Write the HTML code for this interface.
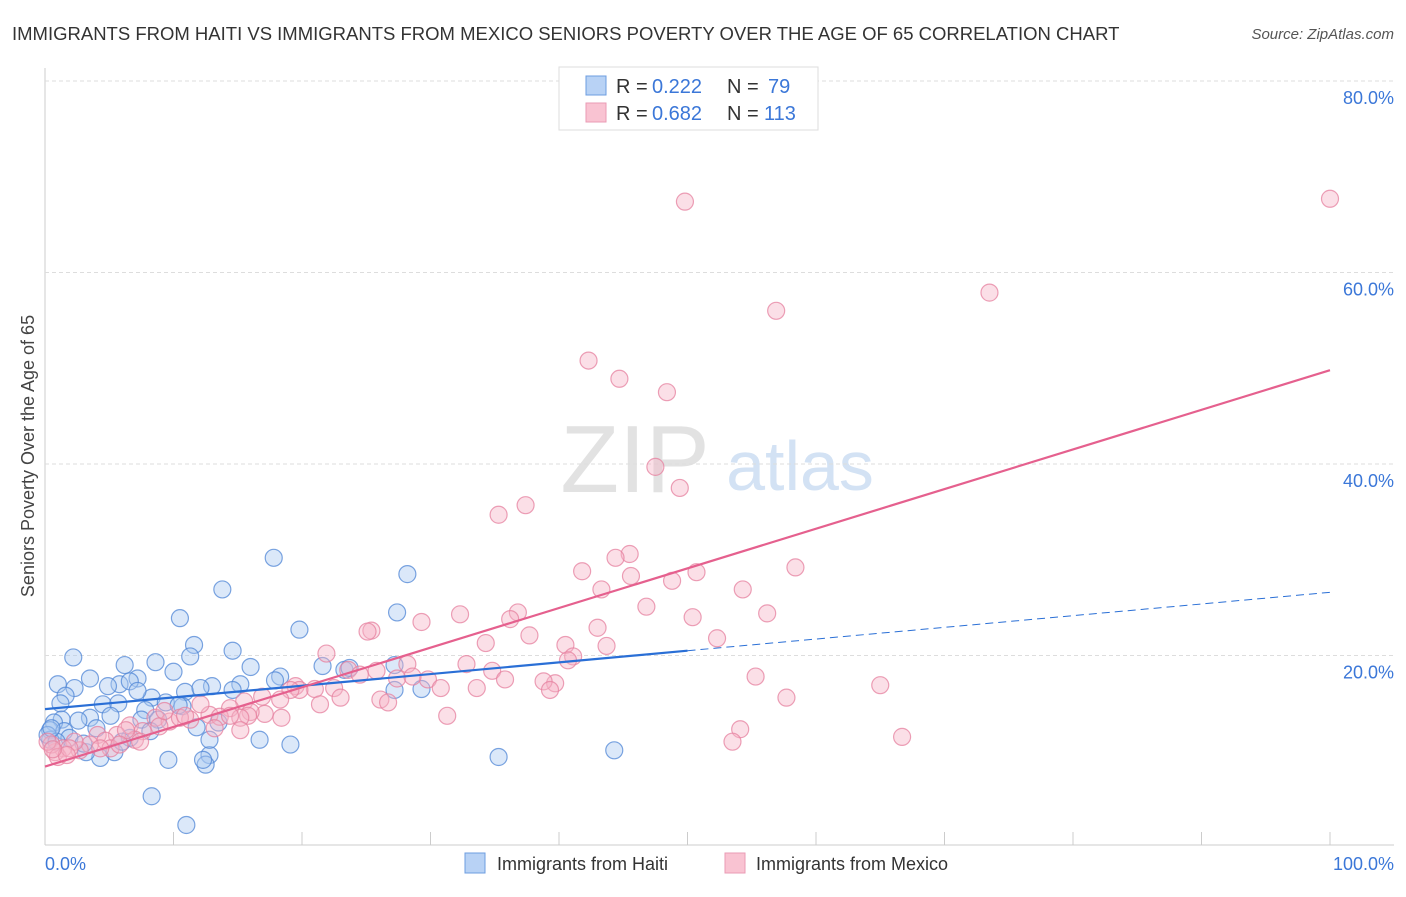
<!DOCTYPE html><html><head><meta charset="utf-8"><style>
body{margin:0;background:#fff;font-family:"Liberation Sans",sans-serif}
svg text{font-family:"Liberation Sans",sans-serif}
</style></head><body>
<svg id="c" width="1406" height="892">
<text x="12" y="40" font-size="18.5" fill="#333">IMMIGRANTS FROM HAITI VS IMMIGRANTS FROM MEXICO SENIORS POVERTY OVER THE AGE OF 65 CORRELATION CHART</text>
<text x="1394" y="39" font-size="15" fill="#555" font-style="italic" text-anchor="end">Source: ZipAtlas.com</text>
<text x="635" y="492" font-size="96" fill="#e2e2e2" font-family="Liberation Serif" text-anchor="middle">ZIP</text>
<text x="800" y="490" font-size="70" fill="#d3e2f4" text-anchor="middle">atlas</text>
<g id="grid"></g><g id="pts"></g><g id="lines"></g>
<text transform="translate(34,456) rotate(-90)" font-size="18" fill="#444" text-anchor="middle">Seniors Poverty Over the Age of 65</text>
<text x="45" y="870" font-size="18" fill="#3b77d8">0.0%</text>
<text x="1394" y="870" font-size="18" fill="#3b77d8" text-anchor="end">100.0%</text>
<g>
<rect x="559" y="67" width="259" height="63" fill="#fff" stroke="#ddd"/>
<rect x="586" y="76" width="20" height="19" fill="#b8d2f5" stroke="#6d9de0"/>
<rect x="586" y="103" width="20" height="19" fill="#f9c3d2" stroke="#ea9bb4"/>
<text x="616" y="93" font-size="20" fill="#333">R =</text>
<text x="652" y="93" font-size="20" fill="#3b77d8">0.222</text>
<text x="727" y="93" font-size="20" fill="#333">N =</text>
<text x="768" y="93" font-size="20" fill="#3b77d8">79</text>
<text x="616" y="120" font-size="20" fill="#333">R =</text>
<text x="652" y="120" font-size="20" fill="#3b77d8">0.682</text>
<text x="727" y="120" font-size="20" fill="#333">N =</text>
<text x="764" y="120" font-size="20" fill="#3b77d8">113</text>
</g>
<g>
<rect x="465" y="853" width="20" height="20" fill="#b8d2f5" stroke="#6d9de0"/>
<text x="497" y="870" font-size="18" fill="#333">Immigrants from Haiti</text>
<rect x="725" y="853" width="20" height="20" fill="#f9c3d2" stroke="#ea9bb4"/>
<text x="756" y="870" font-size="18" fill="#333">Immigrants from Mexico</text>
</g>
</svg>
<script>
const yTicks=[20,40,60,80];
const haitiX=[17.8,13.8,10.5,19.8,11.6,11.3,14.6,2.2,8.6,6.2,16.0,21.6,10.0,18.3,3.5,7.2,1.0,5.8,4.9,6.6,2.3,15.2,10.9,13.0,1.6,8.3,9.4,12.1,1.2,4.5,5.7,10.7,7.8,5.1,3.5,1.3,2.6,0.7,7.5,8.8,13.5,11.8,0.4,1.5,4.0,1.9,0.4,6.6,8.2,16.7,19.1,12.8,4.3,5.4,9.6,12.5,3.2,8.3,11.0,27.2,28.2,27.4,23.3,29.3,35.3,44.3,27.2,0.2,0.9,3.0,6.0,14.6,7.2,10.4,17.9,12.3,0.5,12.8,23.7];
const haitiY=[30.2,26.9,23.9,22.7,21.1,19.9,20.5,19.8,19.3,19.0,18.8,18.9,18.3,17.8,17.6,17.6,17.0,17.0,16.8,17.3,16.6,17.0,16.2,16.8,15.8,15.6,15.1,16.6,15.0,14.9,15.0,14.7,14.3,13.7,13.5,13.3,13.2,13.0,13.3,13.3,13.0,12.5,12.2,12.1,12.4,11.4,11.2,11.4,12.1,11.2,10.7,9.6,9.3,9.9,9.1,8.6,9.9,5.3,2.3,19.0,28.5,24.5,18.5,16.5,9.4,10.1,16.4,11.7,11.0,10.8,11.0,16.4,16.3,14.8,17.4,9.1,12.4,11.2,18.7];
const mexicoX=[49.8,100,73.5,56.9,42.3,44.7,48.4,47.5,49.4,35.3,37.4,45.5,44.4,41.8,50.7,58.4,45.6,43.3,54.3,48.8,32.3,36.8,29.3,56.2,46.8,50.4,36.2,37.7,34.3,52.3,43.0,40.5,43.7,25.4,21.9,25.1,41.1,28.2,32.8,34.8,40.7,39.7,38.8,55.3,65.0,23.6,25.8,29.8,30.8,33.6,35.8,39.3,57.7,19.5,21.0,19.8,22.5,24.5,27.4,28.6,26.1,26.7,16.9,15.5,21.4,23.0,19.1,17.1,18.4,14.4,16.0,12.8,11.3,12.1,8.6,9.7,10.5,13.6,15.8,15.2,6.6,8.9,7.6,5.6,7.0,4.1,4.7,5.1,7.4,3.5,2.7,2.3,1.4,0.8,0.5,0.2,1.0,1.9,31.3,18.3,13.2,54.1,53.5,66.7,6.3,10.9,14.4,9.3,15.2,5.8,4.3,1.7,0.6];
const mexicoY=[67.4,67.7,57.9,56.0,50.8,48.9,47.5,39.7,37.5,34.7,35.7,30.6,30.2,28.8,28.7,29.2,28.3,26.9,26.9,27.8,24.3,24.5,23.5,24.4,25.1,24.0,23.8,22.1,21.3,21.8,22.9,21.1,21.0,22.6,20.2,22.5,19.9,19.1,19.1,18.4,19.5,17.1,17.3,17.8,16.9,18.5,18.4,17.5,16.6,16.6,17.5,16.4,15.6,16.8,16.5,16.4,16.6,18.0,17.6,17.8,15.4,15.1,15.7,15.2,14.9,15.6,16.4,13.9,13.5,14.5,14.1,13.8,13.3,14.9,13.5,13.1,13.5,13.6,13.7,13.5,12.7,12.6,12.1,11.7,11.2,11.7,11.1,10.3,11.0,10.7,10.1,11.0,10.3,9.9,10.7,11.0,9.4,10.3,13.7,15.4,12.4,12.3,11.0,11.5,12.2,13.7,13.7,14.2,12.2,10.7,10.3,9.6,10.2];
const haitiTrend=[14.4,0.122];
const mexicoTrend=[8.4,0.414];
const X0=45,X1=1330,Y0=847,PY=9.575;
const sx=v=>X0+(X1-X0)*v/100, sy=v=>Y0-v*PY;
const NS='http://www.w3.org/2000/svg';
function mk(t,a,p){const e=document.createElementNS(NS,t);for(const k in a)e.setAttribute(k,a[k]);p.appendChild(e);return e;}
const grid=document.getElementById('grid');
mk('line',{x1:45,y1:845,x2:1394,y2:845,stroke:'#ccc'},grid);
mk('line',{x1:45,y1:68,x2:45,y2:845,stroke:'#ccc'},grid);
yTicks.forEach(t=>{
 const l=mk('line',{x1:45,y1:sy(t),x2:1394,y2:sy(t),stroke:'#ddd','stroke-dasharray':'4,3'},grid);
 
 
 const tx=mk('text',{x:1394,y:sy(t)+23,'font-size':18,fill:'#3b77d8','text-anchor':'end'},grid);
 tx.textContent=t.toFixed(1)+'%';
 
 
});
for(let k=1;k<=10;k++){const l=mk('line',{x1:sx(k*10),y1:832,x2:sx(k*10),y2:845,stroke:'#ccc'},grid);
 
 }
const pts=document.getElementById('pts');
function dots(xs,ys,fill,stroke,name){xs.forEach((x,i)=>{
 const c=mk('circle',{cx:sx(x),cy:sy(ys[i]),r:8.5,fill:fill,'fill-opacity':0.42,stroke:stroke,'stroke-width':1.2,'stroke-opacity':0.75},pts);
 
 });}
dots(haitiX,haitiY,'#a9c8f0','#4f86d6','haiti-point');
dots(mexicoX,mexicoY,'#f5b3c6','#e6809f','mexico-point');
const L=document.getElementById('lines');
const hb=mk('line',{x1:sx(0),y1:sy(haitiTrend[0]),x2:sx(50),y2:sy(haitiTrend[0]+haitiTrend[1]*50),stroke:'#2a6fd6','stroke-width':2.2},L);


const hd=mk('line',{x1:sx(50),y1:sy(haitiTrend[0]+haitiTrend[1]*50),x2:sx(100),y2:sy(haitiTrend[0]+haitiTrend[1]*100),stroke:'#2a6fd6','stroke-width':1,'stroke-dasharray':'8,5'},L);


const ml=mk('line',{x1:sx(0),y1:sy(mexicoTrend[0]),x2:sx(100),y2:sy(mexicoTrend[0]+mexicoTrend[1]*100),stroke:'#e5608e','stroke-width':2.2},L);


</script></body></html>
